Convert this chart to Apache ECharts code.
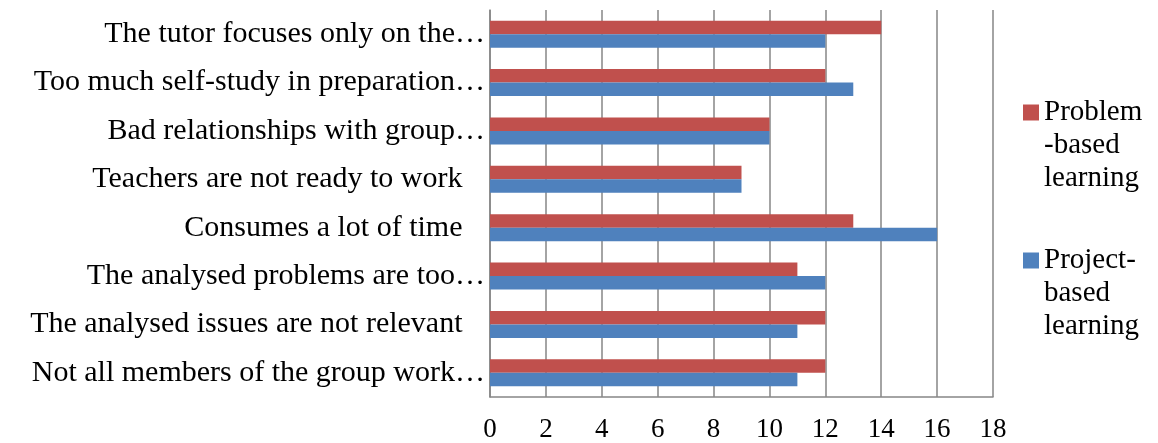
<!DOCTYPE html>
<html>
<head>
<meta charset="utf-8">
<script src="https://cdn.jsdelivr.net/npm/echarts@6/dist/echarts.min.js"></script>
<style>
html,body{margin:0;padding:0;background:#fff;}
#chart{width:1158px;height:443px;}
</style>
</head>
<body>
<div id="chart"></div>
<script>
const categories = [
  "The tutor focuses only on the…",
  "Too much self-study in preparation…",
  "Bad relationships with group…",
  "Teachers are not ready to work   ",
  "Consumes a lot of time   ",
  "The analysed problems are too…",
  "The analysed issues are not relevant   ",
  "Not all members of the group work…"
];
const problemBased = [14, 12, 10, 9, 13, 11, 12, 12];
const projectBased = [12, 13, 10, 9, 16, 12, 11, 11];
const seriesNames = ["Problem-based learning", "Project-based learning"];
const legendLabels = {
  "Problem-based learning": "\n\nProblem\n-based\nlearning",
  "Project-based learning": "\n\nProject-\nbased\nlearning"
};

const FONT = "'Liberation Serif', 'DejaVu Serif', serif";
const chart = echarts.init(document.getElementById('chart'), null, {renderer: 'canvas'});
const legendText = {fontFamily: FONT, fontSize: 29, color: '#000', lineHeight: 33};
chart.setOption({
  animation: false,
  grid: {left: 490, right: 165, top: 10, bottom: 46, containLabel: false},
  legend: [
    {
      data: [seriesNames[0]], orient: 'vertical', left: 1023, top: 30, padding: 0,
      itemWidth: 16, itemHeight: 16, icon: 'rect',
      formatter: n => legendLabels[n], textStyle: legendText
    },
    {
      data: [seriesNames[1]], orient: 'vertical', left: 1023, top: 178, padding: 0,
      itemWidth: 16, itemHeight: 16, icon: 'rect',
      formatter: n => legendLabels[n], textStyle: legendText
    }
  ],
  xAxis: {
    type: 'value', min: 0, max: 18, interval: 2,
    axisLine: {show: true, lineStyle: {color: '#868686', width: 1.5}},
    axisTick: {show: false},
    splitLine: {show: true, lineStyle: {color: '#868686', width: 1.5}},
    axisLabel: {fontFamily: FONT, fontSize: 27, color: '#000', margin: 19}
  },
  yAxis: {
    type: 'category', data: categories, inverse: true,
    axisLine: {show: true, lineStyle: {color: '#868686', width: 1.5}},
    axisTick: {show: false},
    axisLabel: {fontFamily: FONT, fontSize: 30, color: '#000', margin: 5}
  },
  series: [
    {name: seriesNames[0], type: 'bar', data: problemBased, barGap: '0%', barCategoryGap: '44%',
     itemStyle: {color: '#C0504D'}},
    {name: seriesNames[1], type: 'bar', data: projectBased, barGap: '0%', barCategoryGap: '44%',
     itemStyle: {color: '#4F81BD'}}
  ]
});
</script>
</body>
</html>
